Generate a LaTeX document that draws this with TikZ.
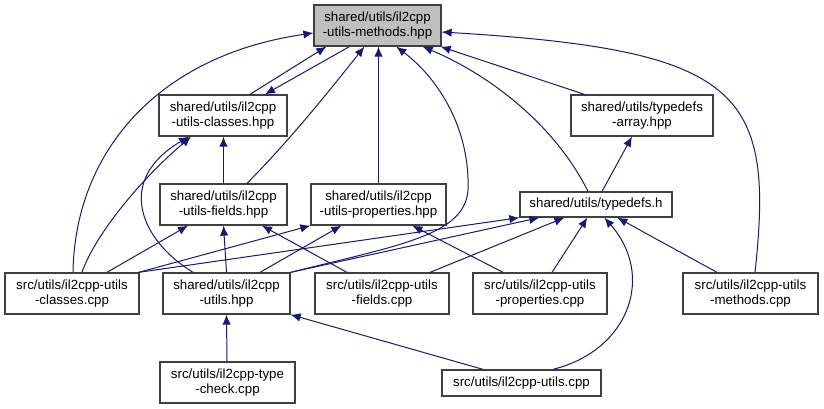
\documentclass[tikz,border=0pt]{standalone}
\usepackage{fontspec}
\setmainfont{Liberation Sans}
\usepackage{tikz}
\usetikzlibrary{
  arrows.meta,%
  positioning,%
  calc
}
\definecolor{edgeblue}{HTML}{191970}
\definecolor{boxgray}{HTML}{BFBFBF}
\definecolor{boxline}{HTML}{404040}
\tikzset{>={Latex[length=10pt, width=8.5pt]}}
\tikzset{file/.style={draw=boxline, line width=1.3pt, fill=white, inner sep=0pt,
    align=center, minimum height=41pt, font=\fontsize{13.3}{15}\selectfont}}
\tikzset{focus/.style={file, fill=boxgray}}
\tikzset{incl/.style={->, draw=edgeblue, line width=1pt}}

\begin{document}
\begin{tikzpicture}[x=1pt, y=-1pt]
                \useasboundingbox (0,0) rectangle (824,409);%
                % files
                \node[focus, minimum width=127] (methodshpp) at (377.5,25.5) {shared/utils/il2cpp\\-utils-methods.hpp};%
                \node[file, minimum width=128] (classeshpp) at (223,115.5) {shared/utils/il2cpp\\-utils-classes.hpp};%
                \node[file, minimum width=142] (arrayhpp) at (642,115.5) {shared/utils/typedefs\\-array.hpp};%
                \node[file, minimum width=127] (fieldshpp) at (223.5,204.5) {shared/utils/il2cpp\\-utils-fields.hpp};%
                \node[file, minimum width=135] (propertieshpp) at (378.5,204.5) {shared/utils/il2cpp\\-utils-properties.hpp};%
                \node[file, minimum width=152, minimum height=25] (typedefsh) at (596,204.5) {shared/utils/typedefs.h};%
                \node[file, minimum width=134] (classescpp) at (72,293.5) {src/utils/il2cpp-utils\\-classes.cpp};%
                \node[file, minimum width=127] (utilshpp) at (226.5,293.5) {shared/utils/il2cpp\\-utils.hpp};%
                \node[file, minimum width=134] (fieldscpp) at (382,293.5) {src/utils/il2cpp-utils\\-fields.cpp};%
                \node[file, minimum width=134] (propertiescpp) at (540,293.5) {src/utils/il2cpp-utils\\-properties.cpp};%
                \node[file, minimum width=135] (methodscpp) at (750.5,293.5) {src/utils/il2cpp-utils\\-methods.cpp};%
                \node[file, minimum width=135] (typecheckcpp) at (227.5,382.5) {src/utils/il2cpp-type\\-check.cpp};%
                \node[file, minimum width=159, minimum height=26] (utilscpp) at (521.5,383) {src/utils/il2cpp-utils.cpp};%
                % into methods.hpp
                \draw[incl] ([xshift=1pt]classescpp.north) .. controls (75,150) and (160,55) .. ([yshift=-7.5pt]methodshpp.west);%
                \draw[incl] ([xshift=27pt]classeshpp.north) -- ([xshift=13pt]methodshpp.south west);%
                \draw[incl] ([xshift=36pt]methodshpp.south west) -- ([xshift=42pt]classeshpp.north);%
                \draw[incl] ([xshift=23.5pt]fieldshpp.north) .. controls (290,140) and (330,90) .. ([xshift=51pt]methodshpp.south west);%
                \draw[incl] (propertieshpp.north) -- (propertieshpp.north |- methodshpp.south);%
                \draw[incl] (utilshpp.north east) .. controls (400,245) and (465,235) .. (468,190)
                  .. controls (470,130) and (440,80) .. ([xshift=83pt]methodshpp.south west);%
                \draw[incl] ([xshift=-8pt]typedefsh.north) .. controls (555,125) and (490,75) .. ([xshift=-19pt]methodshpp.south east);%
                \draw[incl] ([xshift=14pt]arrayhpp.north west) -- ([xshift=-1pt]methodshpp.south east);%
                \draw[incl] ([xshift=4.5pt]methodscpp.north) .. controls (775,90) and (740,50) .. ([yshift=-6.5pt]methodshpp.east);%
                % into classes.hpp
                \draw[incl] (fieldshpp.north) -- (fieldshpp.north |- classeshpp.south);%
                \draw[incl] ([xshift=10pt]classescpp.north) .. controls (95,235) and (140,180) .. ([xshift=-32pt]classeshpp.south);%
                \draw[incl] ([xshift=-33.5pt]utilshpp.north) .. controls (140,240) and (115,180) .. ([xshift=-34pt]classeshpp.south);%
                % into fields.hpp and properties.hpp
                \draw[incl] ([xshift=35pt]classescpp.north) -- ([xshift=-35.5pt]fieldshpp.south);%
                \draw[incl] (utilshpp.north) -- (fieldshpp.south);%
                \draw[incl] ([xshift=-35pt]fieldscpp.north) -- ([xshift=38.5pt]fieldshpp.south);%
                \draw[incl] ([xshift=-1pt]classescpp.north east) -- (propertieshpp.south west);%
                \draw[incl] ([xshift=33.5pt]utilshpp.north) -- ([xshift=31pt]propertieshpp.south west);%
                \draw[incl] ([xshift=-37pt]propertiescpp.north) -- ([xshift=102pt]propertieshpp.south west);%
                % into typedefs
                \draw[incl] ([xshift=6pt]typedefsh.north) -- ([xshift=-10pt]arrayhpp.south);%
                \draw[incl] ([xshift=-1pt]classescpp.north east) -- (typedefsh.south west);%
                \draw[incl] (utilshpp.north east) -- ([xshift=20pt]typedefsh.south west);%
                \draw[incl] ([xshift=48pt]fieldscpp.north) -- ([xshift=45pt]typedefsh.south west);%
                \draw[incl] ([xshift=12pt]propertiescpp.north) -- ([xshift=68pt]typedefsh.south west);%
                \draw[incl] ([xshift=31.5pt]utilscpp.north) .. controls (630,350) and (655,275) .. ([xshift=85pt]typedefsh.south west);%
                \draw[incl] ([xshift=-33.5pt]methodscpp.north) -- ([xshift=98pt]typedefsh.south west);%
                % into utils.hpp
                \draw[incl] ([xshift=-0.5pt]typecheckcpp.north) -- (utilshpp.south);%
                \draw[incl] ([xshift=-38.5pt]utilscpp.north) -- (utilshpp.south east);%
              \end{tikzpicture}
\end{document}
